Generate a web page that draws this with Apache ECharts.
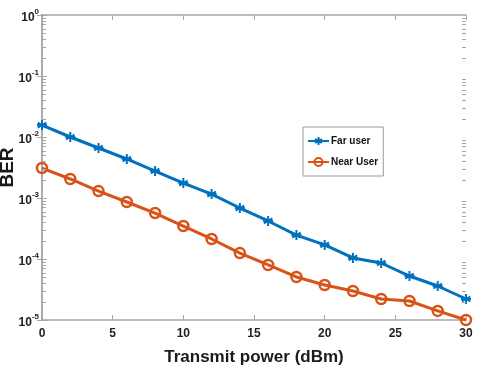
<!DOCTYPE html>
<html>
<head>
<meta charset="utf-8">
<script src="https://cdn.jsdelivr.net/npm/echarts@6/dist/echarts.min.js"></script>
<style>
  html, body { margin: 0; padding: 0; background: #fff; }
  #main { width: 480px; height: 376px; }
</style>
</head>
<body>
<div id="main"></div>
<script>
// transmit power (dBm)
var power = [0, 2, 4, 6, 8, 10, 12, 14, 16, 18, 20, 22, 24, 26, 28, 30];
// BER values
var farUser = [0.0157, 0.0100, 0.0066, 0.00436, 0.00277, 0.00176, 0.00116, 0.000685,
               0.00042, 0.000247, 0.00017, 0.000104, 0.000086, 0.0000526, 0.0000361, 0.0000221];
var nearUser = [0.0031, 0.00205, 0.0013, 0.00086, 0.000567, 0.000347, 0.000213, 0.000125,
                0.0000798, 0.0000507, 0.0000375, 0.0000299, 0.0000221, 0.0000205, 0.0000141, 0.00001];
var seriesNames = ['Far user', 'Near User'];

function pairs(ys) {
    return power.map(function (x, i) { return [x, ys[i]]; });
}

var axisGray = '#a6a6a6';
var starPath = 'path://M0,-5L0,5M-4.3,-2.5L4.3,2.5M-4.3,2.5L4.3,-2.5M-5,0L5,0';

var myChart = echarts.init(document.getElementById('main'));

var option = {
    backgroundColor: '#fff',
    animation: false,
    grid: { left: 42, right: 14, top: 15, bottom: 56, containLabel: false, outerBoundsMode: 'none' },
    legend: {
        orient: 'vertical',
        left: 303,
        top: 127,
        backgroundColor: '#fff',
        borderColor: '#999',
        borderWidth: 1,
        borderRadius: 0,
        padding: [9, 5, 9, 4],
        itemGap: 11,
        itemWidth: 21,
        itemHeight: 10,
        data: seriesNames,
        textStyle: { fontFamily: 'Liberation Sans', fontWeight: 'bold', fontSize: 10, color: '#111', padding: [0, 0, 0, -3] }
    },
    xAxis: [{
        type: 'value',
        min: 0,
        max: 30,
        interval: 5,
        name: 'Transmit power (dBm)',
        nameLocation: 'middle',
        nameGap: 29,
        nameMoveOverlap: false,
        nameTextStyle: { fontFamily: 'Liberation Sans', fontWeight: 'bold', fontSize: 17, color: '#1a1a1a' },
        axisLine: { lineStyle: { color: axisGray, width: 1.5 } },
        axisTick: { inside: true, length: 5, lineStyle: { color: axisGray } },
        axisLabel: { fontFamily: 'Liberation Sans', fontWeight: 'bold', fontSize: 12, color: '#222', margin: 8 },
        splitLine: { show: false }
    }, {
        type: 'value',
        position: 'top',
        min: 0,
        max: 30,
        interval: 5,
        axisLine: { lineStyle: { color: axisGray, width: 1.5 } },
        axisTick: { inside: true, length: 5, lineStyle: { color: axisGray } },
        axisLabel: { show: false },
        splitLine: { show: false }
    }],
    yAxis: [{
        type: 'log',
        logBase: 10,
        min: 0.00001,
        max: 1,
        name: 'BER',
        nameLocation: 'middle',
        nameGap: 25,
        nameMoveOverlap: false,
        nameTextStyle: { fontFamily: 'Liberation Sans', fontWeight: 'bold', fontSize: 19, color: '#1a1a1a' },
        axisLine: { lineStyle: { color: axisGray, width: 1.5 } },
        axisTick: { inside: true, length: 5, lineStyle: { color: axisGray } },
        axisLabel: {
            margin: 3,
            formatter: function (v) {
                var e = Math.round(Math.log10(v));
                return '{b|10}{s|' + e + '}';
            },
            rich: {
                b: { fontFamily: 'Liberation Sans', fontWeight: 'bold', fontSize: 12, color: '#222', padding: [6, 0, 0, 0] },
                s: { fontFamily: 'Liberation Sans', fontWeight: 'bold', fontSize: 8, color: '#222', padding: [0, 0, 6, 0] }
            }
        },
        splitLine: { show: false }
    }, {
        type: 'log',
        logBase: 10,
        min: 0.00001,
        max: 1,
        position: 'right',
        axisLine: { lineStyle: { color: axisGray, width: 1.5 } },
        axisTick: { inside: true, length: 5, lineStyle: { color: axisGray } },
        axisLabel: { show: false },
        splitLine: { show: false }
    }],
    series: [{
        name: seriesNames[0],
        type: 'line',
        data: pairs(farUser),
        clip: false,
        symbol: starPath,
        symbolSize: 10,
        lineStyle: { color: '#0072BD', width: 3 },
        itemStyle: { color: '#0072BD', borderColor: '#0072BD', borderWidth: 2 },
        z: 3
    }, {
        name: seriesNames[1],
        type: 'line',
        data: pairs(nearUser),
        clip: false,
        symbol: 'circle',
        symbolSize: 10,
        lineStyle: { color: '#D95319', width: 3 },
        itemStyle: { color: 'rgba(255,255,255,0)', borderColor: '#D95319', borderWidth: 2.5 },
        z: 3
    }]
};

myChart.setOption(option);

// MATLAB-style minor ticks on the log axes (2..9 within each decade)
var leftX = myChart.convertToPixel({ xAxisIndex: 0 }, 0);
var rightX = myChart.convertToPixel({ xAxisIndex: 0 }, 30);
var minor = [];
for (var n = -5; n < 0; n++) {
    for (var k = 2; k <= 9; k++) {
        var y = Math.round(myChart.convertToPixel({ yAxisIndex: 0 }, k * Math.pow(10, n))) + 0.5;
        minor.push({ type: 'line', z: 100,
                     shape: { x1: leftX, y1: y, x2: leftX + 4, y2: y },
                     style: { stroke: axisGray, lineWidth: 1 }, silent: true });
        minor.push({ type: 'line', z: 100,
                     shape: { x1: rightX, y1: y, x2: rightX - 4, y2: y },
                     style: { stroke: axisGray, lineWidth: 1 }, silent: true });
    }
}
myChart.setOption({ graphic: { elements: minor } });
</script>
</body>
</html>
